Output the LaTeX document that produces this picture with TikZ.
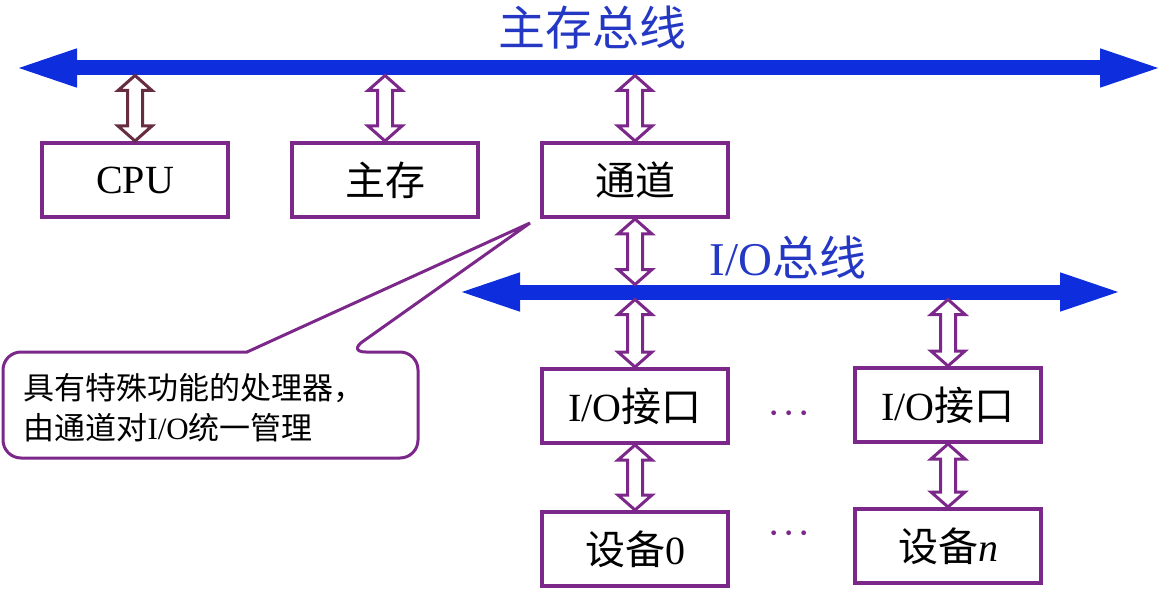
\documentclass[tikz,border=0pt]{standalone}
\usepackage{fontspec}
\setmainfont{Liberation Serif}
\newfontfamily\cjk{Noto Sans CJK SC}
\newcommand{\hz}[1]{{\cjk #1}}
\newcommand{\threedots}{\textperiodcentered\kern1.5pt\textperiodcentered\kern1.5pt\textperiodcentered}
\usepackage{tikz}
\usetikzlibrary{arrows.meta,calc}
\usepackage{xcolor}
\definecolor{busblue}{RGB}{14,46,222}
\definecolor{titleblue}{RGB}{36,56,196}
\definecolor{boxpurple}{RGB}{124,40,138}
\definecolor{cpulink}{RGB}{104,44,64}
\tikzset{
  >=latex,
  block/.style={draw=boxpurple,line width=4pt,minimum width=186pt,minimum height=74pt,inner sep=0pt,
    font=\fontsize{40}{48}\selectfont},
  bus/.style={draw=busblue,line width=15pt,
    {Triangle[length=64pt,width=34pt]}-{Triangle[length=64pt,width=34pt]}},
  link/.style={draw=boxpurple,line width=3pt,fill=white,line join=miter,
    to path={let \p1=(\tikztostart), \p2=(\tikztotarget) in
      (\x1,\y1) -- (\x1+17pt,\y1-15pt) -- (\x1+7.5pt,\y1-15pt) -- (\x1+7.5pt,\y2+15pt)
      -- (\x1+17pt,\y2+15pt) -- (\x1,\y2) -- (\x1-17pt,\y2+15pt) -- (\x1-7.5pt,\y2+15pt)
      -- (\x1-7.5pt,\y1-15pt) -- (\x1-17pt,\y1-15pt) -- cycle}},
  cpu link/.style={link,draw=cpulink}
}

\begin{document}
\begin{tikzpicture}[x=1pt, y=-1pt]
\useasboundingbox (0,0) rectangle (1162,604);

% Styles
\tikzstyle{title} = [text=titleblue, font=\fontsize{47}{50}\selectfont]
\tikzstyle{note} = [draw=boxpurple, line width=3pt, line join=miter]
\tikzstyle{dots} = [text=boxpurple, font=\fontsize{40}{40}\selectfont, inner sep=0pt]

% Bus lines
\coordinate (mbL) at (13,68);
\coordinate (mbR) at (1164,68);
\coordinate (mbB) at (0,75.5);
\coordinate (iobL) at (456,292);
\coordinate (iobR) at (1124,292);
\coordinate (iobU) at (0,284.5);
\coordinate (iobD) at (0,299.5);
\draw[bus] (mbL) -- (mbR);
\draw[bus] (iobL) -- (iobR);
\node[title] (mbT) at (592,28) {\hz{主存总线}};
\node[title] (iobT) at (788,258) {I/O\hz{总线}};

% Boxes
\node[block] (cpu) at (135,180) {CPU};
\node[block] (mem) at (385,180) {\hz{主存}};
\node[block] (ch) at (635,180) {\hz{通道}};
\node[block] (io1) at (635,406) {I/O\hz{接口}};
\node[block] (io2) at (948,405) {I/O\hz{接口}};
\node[block] (dev0) at (635,549) {\hz{设备}0};
\node[block] (devn) at (948,546) {\hz{设备}\textit{n}};
\node[dots, anchor=base] (dotsA) at (789,426) {\threedots};
\node[dots, anchor=base] (dotsB) at (789,546) {\threedots};

% Links
\draw[cpu link] (cpu.north |- mbB) to (cpu.north);
\draw[link] (mem.north |- mbB) to (mem.north);
\draw[link] (ch.north |- mbB) to (ch.north);
\draw[link] (ch.south) to (ch.south |- iobU);
\draw[link] (io1.north |- iobD) to (io1.north);
\draw[link] (io2.north |- iobD) to (io2.north);
\draw[link] (io1.south) to (dev0.north);
\draw[link] (io2.south) to (devn.north);

% Callout
\coordinate (noteTip) at ([xshift=-10pt,yshift=-4pt]ch.south west);
\draw[note, rounded corners=18pt] (200,352) -- (3,352) -- (3,458) -- (418,458) -- (418,352) -- (348,352)
  [sharp corners] -- (noteTip) -- (247,352) -- cycle;
\node[anchor=west, align=left, font=\fontsize{31}{40}\selectfont] (noteText) at (20,408)
  {\hz{具有特殊功能的处理器，}\\\hz{由通道对}I/O\hz{统一管理}};

\end{tikzpicture}
\end{document}
